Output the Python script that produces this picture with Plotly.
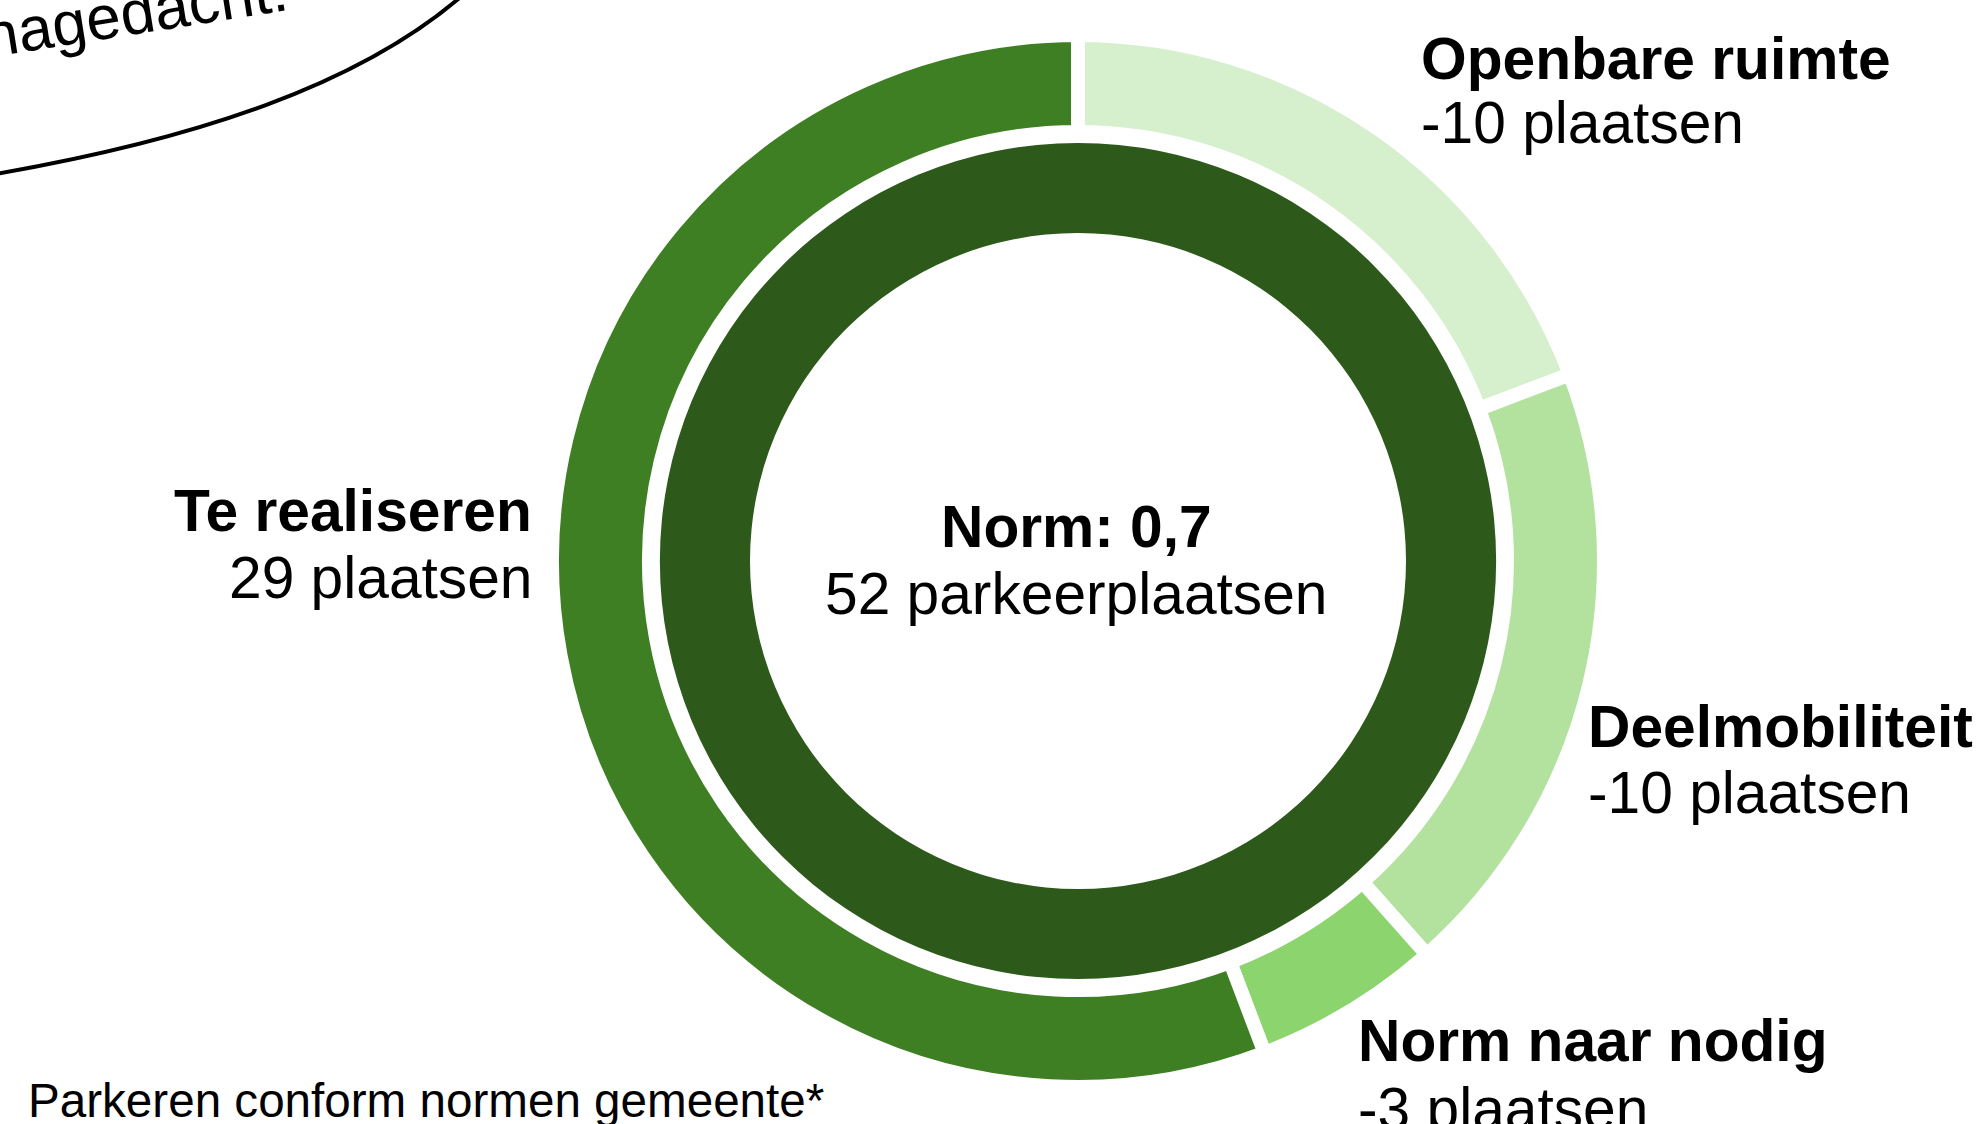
import plotly.graph_objects as go

# ---- data ----
categories = ["Openbare ruimte", "Deelmobiliteit", "Norm naar nodig", "Te realiseren"]
values = [10, 10, 3, 29]
value_texts = ["-10 plaatsen", "-10 plaatsen", "-3 plaatsen", "29 plaatsen"]
outer_colors = ["#d6efcc", "#b3e29f", "#8cd46e", "#3e7f23"]

norm_label = "Norm: 0,7"
total_label = ["Norm"]
total_values = [52]
total_text = "52 parkeerplaatsen"
inner_color = "#2d5a1a"

footnote = "Parkeren conform normen gemeente*"
bubble_text = "nagedacht!"

W, H = 1981, 1124
FONT = "Liberation Sans, Arial, sans-serif"


def px(x):
    return x / W


def py(y):
    return 1 - y / H


fig = go.Figure()

# outer ring (centre 1078,561); white separator stroke covers 7px of each edge
cx, cy = 1078, 561
LINE = 14
r_out = 519 + LINE / 2
r_hole = 436 - LINE / 2
fig.add_trace(go.Pie(
    labels=categories, values=values, sort=False, direction="clockwise", rotation=0,
    hole=r_hole / r_out,
    marker=dict(colors=outer_colors, line=dict(color="white", width=LINE)),
    textinfo="none", hoverinfo="label+value", showlegend=False,
    domain=dict(x=[px(cx - r_out), px(cx + r_out)], y=[py(cy + r_out), py(cy - r_out)]),
))

# inner ring
r_in = 418
fig.add_trace(go.Pie(
    labels=total_label, values=total_values, sort=False, direction="clockwise", rotation=0,
    hole=328 / 418,
    marker=dict(colors=[inner_color], line=dict(color="white", width=0)),
    textinfo="none", hoverinfo="label+value", showlegend=False,
    domain=dict(x=[px(cx - r_in), px(cx + r_in)], y=[py(cy + r_in), py(cy - r_in)]),
))

# label positions (x, title middle, value middle, anchor)
label_pos = {
    "Openbare ruimte": (1419, 58, 122, "left"),
    "Deelmobiliteit": (1586, 726, 792, "left"),
    "Norm naar nodig": (1356, 1040, 1108, "left"),
    "Te realiseren": (534, 510, 577, "right"),
}
FS = 58.7

annotations = []
for cat, vt in zip(categories, value_texts):
    x, y1, y2, anchor = label_pos[cat]
    annotations.append(dict(x=px(x), y=py(y1), xref="paper", yref="paper", text="<b>" + cat + "</b>",
                            showarrow=False, xanchor=anchor, yanchor="middle",
                            font=dict(family=FONT, size=FS, color="black")))
    annotations.append(dict(x=px(x), y=py(y2), xref="paper", yref="paper", text=vt,
                            showarrow=False, xanchor=anchor, yanchor="middle",
                            font=dict(family=FONT, size=FS, color="black")))

annotations.append(dict(x=px(1076), y=py(526), xref="paper", yref="paper", text="<b>" + norm_label + "</b>",
                        showarrow=False, xanchor="center", yanchor="middle",
                        font=dict(family=FONT, size=FS, color="black")))
annotations.append(dict(x=px(1076), y=py(593), xref="paper", yref="paper", text=total_text,
                        showarrow=False, xanchor="center", yanchor="middle",
                        font=dict(family=FONT, size=FS, color="black")))
annotations.append(dict(x=px(26), y=py(1100), xref="paper", yref="paper", text=footnote,
                        showarrow=False, xanchor="left", yanchor="middle",
                        font=dict(family=FONT, size=47.6, color="black")))
annotations.append(dict(x=px(135), y=py(13), xref="paper", yref="paper", text=bubble_text,
                        showarrow=False, xanchor="center", yanchor="middle", textangle=-9,
                        font=dict(family=FONT, size=62, color="black")))

# speech bubble outline (decoration)
p0, p1, p2, p3 = (-10, 175), (188, 141), (366, 86), (474, -15)
path = "M {},{} C {},{} {},{} {},{}".format(
    px(p0[0]), py(p0[1]), px(p1[0]), py(p1[1]), px(p2[0]), py(p2[1]), px(p3[0]), py(p3[1]))

fig.update_layout(
    width=W, height=H,
    margin=dict(l=0, r=0, t=0, b=0),
    paper_bgcolor="white", plot_bgcolor="white",
    annotations=annotations,
    shapes=[dict(type="path", path=path, xref="paper", yref="paper",
                 line=dict(color="black", width=4))],
)

fig.write_html("out.html", config={"displayModeBar": False},
               post_script="document.body.style.margin='0';document.body.style.overflow='hidden';")
